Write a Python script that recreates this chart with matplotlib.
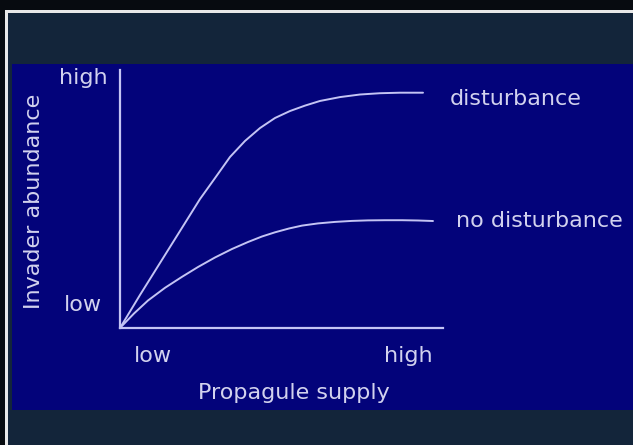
import matplotlib.pyplot as plt
from matplotlib.patches import Rectangle

# curve values (0-100 scale on both axes)
dist_x = [0, 6.19, 12.38, 18.58, 24.77, 29.41, 34.06, 38.70, 43.34, 47.99, 52.63,
          57.28, 61.92, 68.11, 74.30, 80.50, 86.69, 93.81]
dist_y = [0, 12.8, 25.2, 37.6, 50.0, 58.1, 66.3, 72.5, 77.5, 81.4, 84.1,
          86.2, 88.0, 89.5, 90.5, 91.0, 91.2, 91.2]
nodist_x = [0, 4.33, 8.67, 13.93, 19.20, 24.15, 29.41, 34.67, 39.63, 43.96, 47.99,
            52.32, 56.35, 61.30, 66.56, 71.83, 76.78, 82.04, 87.31, 92.26, 96.90]
nodist_y = [0, 5.62, 10.66, 15.58, 19.84, 23.64, 27.33, 30.62, 33.33, 35.47, 37.09,
            38.57, 39.69, 40.54, 41.12, 41.51, 41.71, 41.78, 41.78, 41.67, 41.47]

W, H = 633, 445
fig = plt.figure(figsize=(W / 100, H / 100), dpi=100, facecolor='#070b10')

def px_rect(x0, y0, x1, y1, **kw):
    # rectangle given in pixel coords from top-left
    r = Rectangle((x0 / W, 1 - y1 / H), (x1 - x0) / W, (y1 - y0) / H,
                  transform=fig.transFigure, zorder=-5, **kw)
    fig.patches.append(r)

px_rect(5, 10, 640, 450, facecolor='#e8e8e8', edgecolor='none')
px_rect(8, 13, 640, 450, facecolor='#13253a', edgecolor='none')
px_rect(12, 64, 640, 410, facecolor='#03037a', edgecolor='none')

line_col = '#c4c4f4'
text_col = '#d2d2ee'

ax = fig.add_axes([120 / W, 1 - 328 / H, 323 / W, 258 / H])
ax.set_facecolor('none')
ax.plot(dist_x, dist_y, color=line_col, lw=1.4, solid_capstyle='round', solid_joinstyle='round')
ax.plot(nodist_x, nodist_y, color=line_col, lw=1.4, solid_capstyle='round', solid_joinstyle='round')
ax.set_xlim(0, 100)
ax.set_ylim(0, 100)
for s in ['top', 'right']:
    ax.spines[s].set_visible(False)
for s in ['left', 'bottom']:
    ax.spines[s].set_color(line_col)
    ax.spines[s].set_linewidth(1.6)
ax.set_xticks([])
ax.set_yticks([])

fs = 16
fig.text(450 / W, 1 - 99 / H, 'disturbance', color=text_col, fontsize=fs, ha='left', va='center')
fig.text(456 / W, 1 - 221 / H, 'no disturbance', color=text_col, fontsize=fs, ha='left', va='center')
fig.text(83 / W, 1 - 78 / H, 'high', color=text_col, fontsize=fs, ha='center', va='center')
fig.text(83 / W, 1 - 305 / H, 'low', color=text_col, fontsize=fs, ha='center', va='center')
fig.text(153 / W, 1 - 356 / H, 'low', color=text_col, fontsize=fs, ha='center', va='center')
fig.text(408 / W, 1 - 356 / H, 'high', color=text_col, fontsize=fs, ha='center', va='center')
fig.text(294 / W, 1 - 393 / H, 'Propagule supply', color=text_col, fontsize=fs, ha='center', va='center')
fig.text(34 / W, 1 - 201 / H, 'Invader abundance', color=text_col, fontsize=fs,
         ha='center', va='center', rotation=90)

fig.savefig('out.png', dpi=100, facecolor=fig.get_facecolor())
